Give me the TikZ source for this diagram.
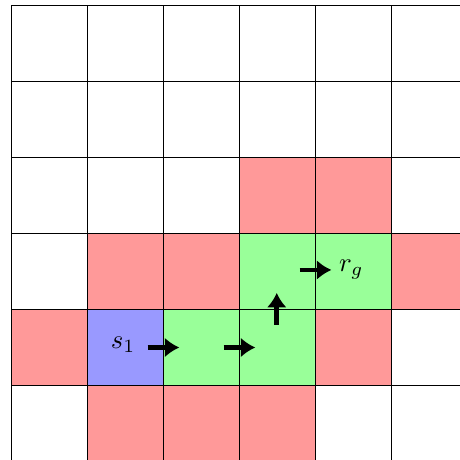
\documentclass[tikz,border=0pt]{standalone}
\usetikzlibrary{arrows.meta, positioning}

\begin{document}
\begin{tikzpicture}[
    >={Latex[length=5.5pt,width=7.5pt]}, % Set default arrow tip style
    blocked/.style={fill=red!40}, % Style for blocked cells
    pathcell/.style={fill=green!40}, % Style for cells on the path
    startcell/.style={fill=blue!40}, % Style for the start cell
    move/.style={->, line width=1.7pt}, % Style for move arrows
    gridline/.style={black, line width=0.5pt} % Style for the grid
]

    % Fix the visible area
    \useasboundingbox (-0.151, 0.02) rectangle (5.901, 6.072);

    % Coloured cells
    \foreach \x/\y in {3/3, 4/3, 1/2, 2/2, 5/2, 0/1, 4/1, 1/0, 2/0, 3/0}
        \fill[blocked] (\x, \y) rectangle ++(1, 1);
    \foreach \x/\y in {3/2, 4/2, 2/1, 3/1}
        \fill[pathcell] (\x, \y) rectangle ++(1, 1);
    \fill[startcell] (1, 1) rectangle ++(1, 1);

    % Grid
    \draw[gridline] (0, 0) grid (6, 6);

    % Labels for start and goal
    \node (start) at (1.47, 1.53) {$s_1$};
    \node (goal)  at (4.47, 2.53) {$r_g$};

    % Key points of the moves
    \coordinate (A1) at (1.79, 1.5);  \coordinate (A2) at (2.21, 1.5);
    \coordinate (B1) at (2.79, 1.5);  \coordinate (B2) at (3.21, 1.5);
    \coordinate (C1) at (3.49, 1.8);  \coordinate (C2) at (3.49, 2.22);
    \coordinate (D1) at (3.79, 2.52); \coordinate (D2) at (4.21, 2.52);

    % Move arrows
    \draw[move] (A1) -- (A2);
    \draw[move] (B1) -- (B2);
    \draw[move] (C1) -- (C2);
    \draw[move] (D1) -- (D2);

\end{tikzpicture}
\end{document}
